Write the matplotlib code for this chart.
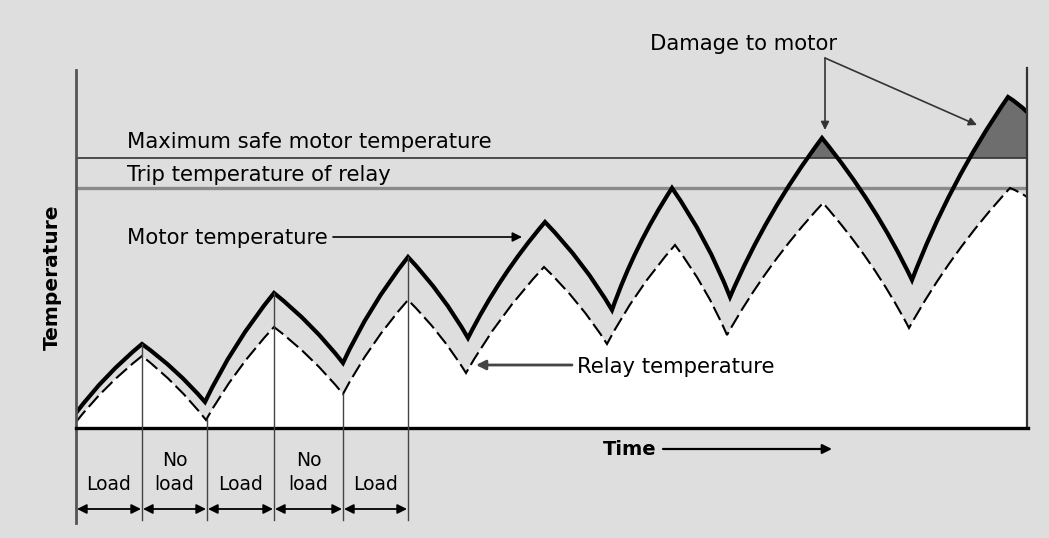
import numpy as np
import matplotlib
matplotlib.use("Agg")
import matplotlib.pyplot as plt
from matplotlib.path import Path
from matplotlib.patches import PathPatch, Rectangle

# ---- data (time / temperature in drawing units) ----
motor_time = [0, 66, 129, 198, 267, 332, 392, 469, 536, 596, 654, 746, 836, 932, 951]
motor_temp = [15, 84, 26, 135, 65, 171, 90, 206, 118, 240, 131, 290, 148, 331, 316]

relay_time = [0, 66, 130, 198, 267, 332, 390, 468, 531, 599, 651, 747, 833, 934, 951]
relay_temp = [6, 72, 8, 101, 34, 128, 55, 161, 84, 183, 93, 225, 100, 240, 231]

max_safe_temp = 270
trip_temp = 240

phase_edges = [0, 66, 131, 198, 267, 332]
phase_labels = ["Load", "No\nload", "Load", "No\nload", "Load"]
guide_curve = ["relay", "motor", "relay", "motor", "relay", "motor"]

T_MAX = 952
Y_MAX = 360

W, H = 1049, 538
STIPPLE = "#dedede"

plt.rcParams["font.family"] = ["DejaVu Sans"]

fig = plt.figure(figsize=(W / 100, H / 100), dpi=100, facecolor=STIPPLE)
ax = fig.add_axes([76 / W, (H - 428) / H, T_MAX / W, Y_MAX / H])
ax.set_xlim(0, T_MAX)
ax.set_ylim(0, Y_MAX)
ax.set_facecolor(STIPPLE)
ax.axis("off")


def arch_path(ts, ys, bow=0.03, close_to=None):
    """Pointed-arch curve through the given vertices (each side bulges upward)."""
    verts = [(ts[0], ys[0])]
    codes = [Path.MOVETO]
    for i in range(len(ts) - 1):
        p0 = np.array([ts[i], ys[i]], float)
        p1 = np.array([ts[i + 1], ys[i + 1]], float)
        d = p1 - p0
        L = np.hypot(*d)
        n = np.array([-d[1], d[0]]) / L
        if n[1] < 0:
            n = -n
        c = (p0 + p1) / 2 + n * bow * L * 2
        verts += [tuple(c), tuple(p1)]
        codes += [Path.CURVE3, Path.CURVE3]
    if close_to is not None:
        verts += [(ts[-1], close_to), (ts[0], close_to), (ts[0], ys[0])]
        codes += [Path.LINETO, Path.LINETO, Path.CLOSEPOLY]
    return Path(verts, codes)


# white area beneath the relay curve
ax.add_patch(PathPatch(arch_path(relay_time, relay_temp, close_to=0),
                       facecolor="white", edgecolor="none", zorder=1))

# motor overheating zones (above maximum safe temperature)
hot = PathPatch(arch_path(motor_time, motor_temp, close_to=0),
                facecolor="#6e6e6e", edgecolor="none", zorder=2)
ax.add_patch(hot)
clip = Rectangle((0, max_safe_temp), T_MAX, Y_MAX, transform=ax.transData)
hot.set_clip_path(clip)

# threshold lines
ax.plot([0, T_MAX], [max_safe_temp] * 2, color="#333333", lw=1.2, zorder=3)
ax.plot([0, T_MAX], [trip_temp] * 2, color="#8a8a8a", lw=2.4, zorder=3)

# temperature curves
ax.add_patch(PathPatch(arch_path(relay_time, relay_temp), facecolor="none",
                       edgecolor="black", lw=1.5, linestyle=(0, (7, 2.5)),
                       zorder=4))
ax.add_patch(PathPatch(arch_path(motor_time, motor_temp), facecolor="none",
                       edgecolor="black", lw=3.0, capstyle="round",
                       joinstyle="miter", zorder=5))

# frame
ax.plot([0, 0], [358, -95], color="#555555", lw=2.0, clip_on=False, zorder=6)
ax.plot([T_MAX - 1, T_MAX - 1], [Y_MAX, 0], color="#333333", lw=1.6,
        clip_on=False, zorder=6)
ax.plot([0, T_MAX], [0, 0], color="black", lw=2.4, clip_on=False, zorder=6)

# load / no-load guides below the time axis
for t, which in zip(phase_edges, guide_curve):
    if t == 0:
        continue
    src_t, src_y = (relay_time, relay_temp) if which == "relay" else (motor_time, motor_temp)
    top = src_y[src_t.index(t)] if t in src_t else np.interp(t, src_t, src_y)
    ax.plot([t, t], [top, -92], color="#444444", lw=1.0, clip_on=False, zorder=6)

lfs = 13.5
for i, lab in enumerate(phase_labels):
    a, b = phase_edges[i], phase_edges[i + 1]
    mid = (a + b) / 2
    if "\n" in lab:
        l1, l2 = lab.split("\n")
        ax.text(mid, -38, l1, ha="center", va="baseline", fontsize=lfs, clip_on=False)
        ax.text(mid, -62, l2, ha="center", va="baseline", fontsize=lfs, clip_on=False)
    else:
        ax.text(mid, -62, lab, ha="center", va="baseline", fontsize=lfs, clip_on=False)
    ax.annotate("", xy=(a + 1, -81), xytext=(b - 1, -81),
                arrowprops=dict(arrowstyle="<|-|>", color="black", lw=1.3,
                                mutation_scale=14, shrinkA=0, shrinkB=0),
                annotation_clip=False)

# text annotations
fs = 15.2
ax.text(51, 280, "Maximum safe motor temperature", fontsize=fs, va="baseline")
ax.text(51, 247, "Trip temperature of relay", fontsize=fs, va="baseline")
ax.text(51, 184, "Motor temperature", fontsize=fs, va="baseline")
ax.annotate("", xy=(446, 191), xytext=(257, 191),
            arrowprops=dict(arrowstyle="-|>", color="black", lw=1.2,
                            mutation_scale=14, shrinkA=0, shrinkB=0))
ax.text(501, 55, "Relay temperature", fontsize=fs, va="baseline", zorder=7)
ax.annotate("", xy=(400, 63), xytext=(496, 63),
            arrowprops=dict(arrowstyle="-|>", color="#444444", lw=2.0,
                            mutation_scale=14, shrinkA=0, shrinkB=0), zorder=7)

ax.text(574, 378, "Damage to motor", fontsize=fs, va="baseline", clip_on=False)
ax.annotate("", xy=(749, 298), xytext=(749, 370),
            arrowprops=dict(arrowstyle="-|>", color="#333333", lw=1.2,
                            mutation_scale=12, shrinkA=0, shrinkB=0),
            annotation_clip=False)
ax.annotate("", xy=(901, 303), xytext=(749, 370),
            arrowprops=dict(arrowstyle="-|>", color="#333333", lw=1.2,
                            mutation_scale=12, shrinkA=0, shrinkB=0),
            annotation_clip=False)

ax.text(527, -27, "Time", fontsize=14, fontweight="bold", va="baseline", clip_on=False)
ax.annotate("", xy=(756, -21), xytext=(587, -21),
            arrowprops=dict(arrowstyle="-|>", color="black", lw=1.6,
                            mutation_scale=14, shrinkA=0, shrinkB=0),
            annotation_clip=False)

ax.text(-24, 151, "Temperature", fontsize=14.5, fontweight="bold", rotation=90,
        ha="center", va="center", clip_on=False)

fig.savefig("out.png", dpi=100, facecolor=STIPPLE)
